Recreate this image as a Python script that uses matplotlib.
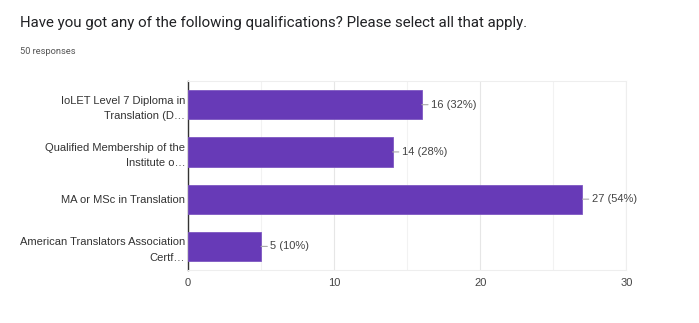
import matplotlib.pyplot as plt

categories = ["IoLET Level 7 Diploma in\nTranslation (D\u2026",
              "Qualified Membership of the\nInstitute o\u2026",
              "MA or MSc in Translation",
              "American Translators Association\nCertf\u2026"]
counts = [16, 14, 27, 5]
percents = [32, 28, 54, 10]
xticks = [0, 10, 20, 30]

plt.rcParams['font.family'] = ['Liberation Sans', 'DejaVu Sans']

fig = plt.figure(figsize=(6.99, 3.23), dpi=100)
ax = fig.add_axes([0.269, 0.164, 0.627, 0.585])

ypos = list(range(len(categories)))
ax.barh(ypos, counts, height=0.62, color="#673ab7", edgecolor="#7e57c2", linewidth=0.6, zorder=3)
ax.set_ylim(len(categories) - 0.5, -0.5)
ax.set_xlim(0, 30)

for y, c, p in zip(ypos, counts, percents):
    ax.annotate(f"{c} ({p}%)", xy=(c, y), xytext=(6.5, 0), textcoords="offset points",
                va="center", ha="left", fontsize=8, color="#444444",
                arrowprops=dict(arrowstyle="-", color="#aaaaaa", lw=0.8, shrinkA=0, shrinkB=0))

ax.set_xticks(xticks)
ax.set_xticks(range(5, 30, 10), minor=True)
ax.set_xticklabels([str(t) for t in xticks], fontsize=8, color="#444444")
ax.set_yticks(ypos)
ax.set_yticklabels(categories, fontsize=8, color="#333333", linespacing=1.65)
ax.tick_params(axis="y", length=0, pad=2)
ax.tick_params(axis="x", length=0, pad=6)
ax.tick_params(axis="x", which="minor", length=0)
ax.grid(axis="x", which="major", color="#e6e6e6", lw=0.8, zorder=0)
ax.grid(axis="x", which="minor", color="#f2f2f2", lw=0.8, zorder=0)
for s in ["top", "right"]:
    ax.spines[s].set_color("#eeeeee")
ax.spines["bottom"].set_color("#eeeeee")
ax.spines["left"].set_color("#333333")
ax.spines["left"].set_linewidth(1.0)

fig.text(0.029, 0.93, "Have you got any of the following qualifications? Please select all that apply.",
         fontsize=10.8, color="#202124", va="center", family=["Roboto", "DejaVu Sans"])
fig.text(0.029, 0.84, "50 responses", fontsize=6.7, color="#555555", va="center",
         family=["Roboto", "DejaVu Sans"])

fig.savefig("out.png", dpi=100)
